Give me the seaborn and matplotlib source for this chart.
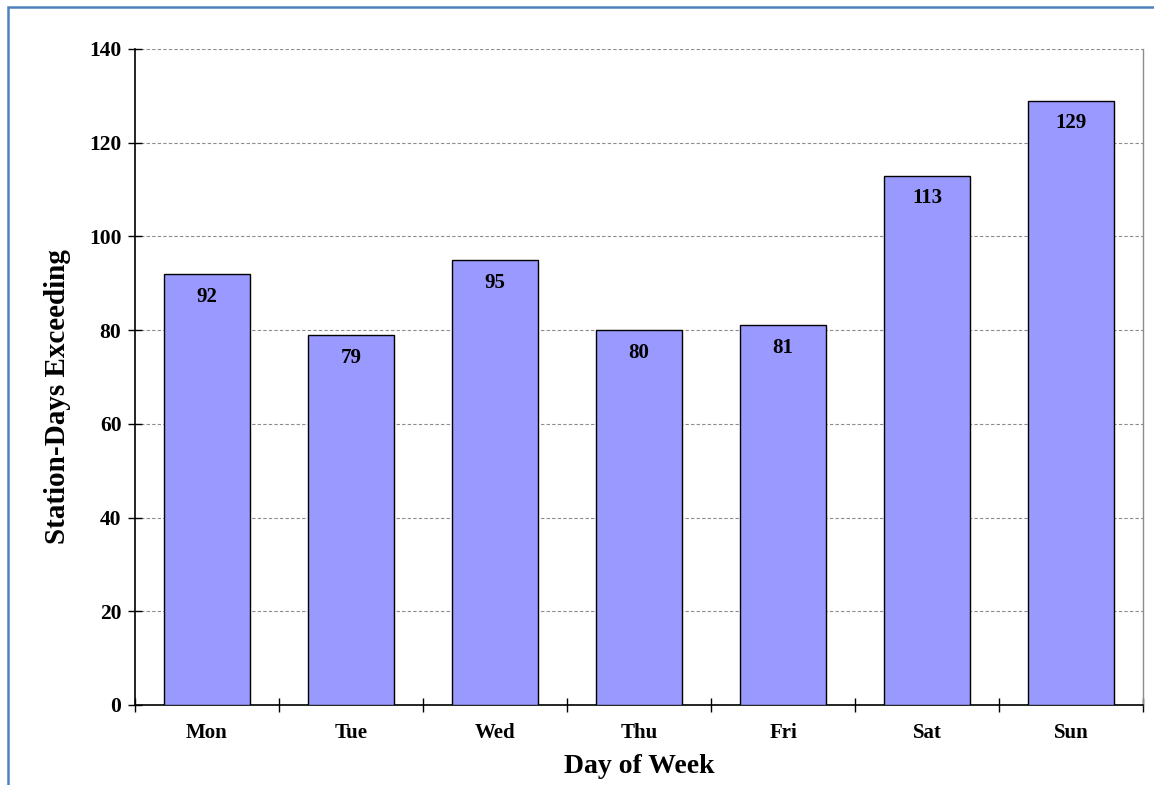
import matplotlib
matplotlib.use("Agg")
import matplotlib.pyplot as plt
from matplotlib.patches import Rectangle
from matplotlib.ticker import FixedLocator
import seaborn as sns
import pandas as pd

days = ["Mon", "Tue", "Wed", "Thu", "Fri", "Sat", "Sun"]
exceedances = [92, 79, 95, 80, 81, 113, 129]
y_ticks = [0, 20, 40, 60, 80, 100, 120, 140]

sns.set_theme(style="white")
plt.rcParams["font.family"] = ["Liberation Serif", "DejaVu Serif"]
plt.rcParams["font.weight"] = "bold"
for key in ["text.color", "axes.labelcolor", "xtick.color", "ytick.color"]:
    plt.rcParams[key] = "black"

df = pd.DataFrame({"day": days, "count": exceedances})

W, H = 1154, 785
fig = plt.figure(figsize=(W / 100, H / 100), dpi=100)
ax = fig.add_axes([135 / W, 1 - 705 / H, (1143 - 135) / W, (705 - 49) / H])

sns.barplot(data=df, x="day", y="count", color="#9999FF", edgecolor="black",
            linewidth=1.0, width=0.6, saturation=1, ax=ax, zorder=3)

ax.set_ylim(0, 140)
ax.set_xlim(-0.5, len(days) - 0.5)
ax.set_yticks(y_ticks)
ax.yaxis.grid(True, linestyle=(0, (3, 2)), color="#8c8c8c", linewidth=0.8, zorder=0)
ax.xaxis.grid(False)

# value labels inside the top of each bar
for i, v in enumerate(exceedances):
    ax.annotate(f"{v}", xy=(i, v), xytext=(0, -16.5), textcoords="offset points",
                ha="center", va="center", fontsize=15, fontweight="bold",
                color="black", zorder=4)

# spines
for s in ["left", "bottom"]:
    ax.spines[s].set_color("black")
    ax.spines[s].set_linewidth(1.2)
ax.spines["right"].set_color("#8c8c8c")
ax.spines["right"].set_linewidth(1.0)
ax.spines["top"].set_visible(False)

# ticks: y crosses the axis, x ticks sit on category boundaries
ax.tick_params(axis="y", direction="inout", length=9.5, width=1.0, color="black",
               labelsize=15.5, pad=5, left=True)
ax.xaxis.set_minor_locator(FixedLocator([i - 0.5 for i in range(len(days) + 1)]))
ax.tick_params(axis="x", which="major", length=0, labelsize=15, pad=13)
ax.tick_params(axis="x", which="minor", direction="inout", length=9.5, width=1.0,
               color="black", bottom=True)
for lbl in ax.get_xticklabels() + ax.get_yticklabels():
    lbl.set_fontweight("bold")

ax.set_xlabel("Day of Week", fontsize=20, fontweight="bold", labelpad=8)
ax.set_ylabel("Station-Days Exceeding", fontsize=21, fontweight="bold")
ax.yaxis.set_label_coords(-0.0635, 0.4695)

# frame around the chart area
fig.patches.append(Rectangle((8 / W, -0.05), 1.1, 1 - 7 / H + 0.05,
                             transform=fig.transFigure, fill=False,
                             edgecolor="#4F81BD", linewidth=1.8))

fig.savefig("out.png", dpi=100)
